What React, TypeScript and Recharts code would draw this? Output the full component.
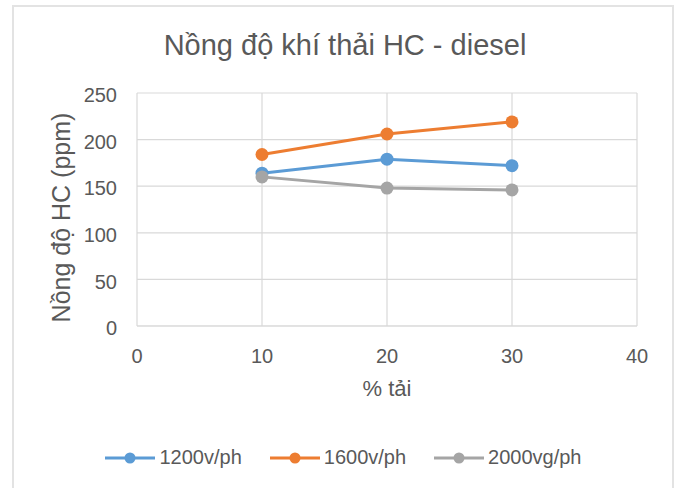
import React from "react";
import {
  LineChart,
  Line,
  XAxis,
  YAxis,
  CartesianGrid,
  Label,
} from "recharts";

// % load values (x) and HC concentration readings in ppm for each engine speed
const loads = [10, 20, 30];
const hc1200 = [164, 179, 172];
const hc1600 = [184, 206, 219];
const hc2000 = [160, 148, 146];

const xTicks = [0, 10, 20, 30, 40];
const yTicks = [0, 50, 100, 150, 200, 250];

const seriesNames = ["1200v/ph", "1600v/ph", "2000vg/ph"];
const seriesColors = ["#5B9BD5", "#ED7D31", "#A5A5A5"];
const seriesValues = [hc1200, hc1600, hc2000];

const series = seriesNames.map((name, i) => ({
  name,
  color: seriesColors[i],
  data: loads.map((x, j) => ({ x, y: seriesValues[i][j] })),
}));

const FONT = "'Liberation Sans', Arial, sans-serif";
const TEXT = "#595959";
const GRID = "#D9D9D9";

const LegendRow = () => (
  <div
    style={{
      position: "absolute",
      left: 0,
      top: 446,
      width: 681,
      display: "flex",
      justifyContent: "center",
      alignItems: "center",
      gap: 28,
      fontFamily: FONT,
      fontSize: 20,
      color: TEXT,
      paddingLeft: 6,
      boxSizing: "border-box",
    }}
  >
    {series.map((s) => (
      <div key={s.name} style={{ display: "flex", alignItems: "center" }}>
        <svg width={50} height={14} style={{ marginRight: 4 }}>
          <line x1={0} y1={7} x2={50} y2={7} stroke={s.color} strokeWidth={3} />
          <circle cx={25} cy={7} r={5.5} fill={s.color} />
        </svg>
        <span>{s.name}</span>
      </div>
    ))}
  </div>
);

export default function App() {
  return (
    <div style={{ position: "absolute", left: 0, top: 0, width: 681, height: 488, background: "#fff" }}>
      <div
        style={{
          position: "absolute",
          left: 12,
          top: 5,
          width: 662,
          height: 483,
          border: "2px solid #E3E3E3",
          borderBottom: "none",
          boxSizing: "border-box",
        }}
      />
      <div
        style={{
          position: "absolute",
          left: 0,
          top: 28,
          width: 690,
          textAlign: "center",
          fontFamily: FONT,
          fontSize: 29,
          color: TEXT,
          lineHeight: "34px",
        }}
      >
        Nồng độ khí thải HC - diesel
      </div>
      <div style={{ position: "absolute", left: 0, top: 0 }}>
        <LineChart
          width={681}
          height={488}
          margin={{ top: 93, right: 44, bottom: 0, left: 0 }}
        >
          <CartesianGrid stroke={GRID} strokeWidth={1.2} />
          <XAxis
            type="number"
            dataKey="x"
            domain={[0, 40]}
            ticks={xTicks}
            height={162}
            axisLine={{ stroke: GRID }}
            tickLine={false}
            tickMargin={17}
            tick={{ fill: TEXT, fontSize: 20, fontFamily: FONT }}
            allowDuplicatedCategory={false}
          >
            <Label
              content={({ viewBox }: any) => (
                <text
                  x={viewBox.x + viewBox.width / 2}
                  y={viewBox.y + 70}
                  textAnchor="middle"
                  fill={TEXT}
                  fontSize={22}
                  fontFamily={FONT}
                >
                  % tải
                </text>
              )}
            />
          </XAxis>
          <YAxis
            type="number"
            domain={[0, 250]}
            ticks={yTicks}
            width={137}
            axisLine={false}
            tickLine={false}
            tickMargin={14}
            tick={{ fill: TEXT, fontSize: 20, fontFamily: FONT, dy: 2 }}
          >
            <Label
              content={({ viewBox }: any) => {
                const cx = 61;
                const cy = viewBox.y + viewBox.height / 2 + 8;
                return (
                  <text
                    x={cx}
                    y={cy}
                    transform={`rotate(-90 ${cx} ${cy})`}
                    textAnchor="middle"
                    dominantBaseline="central"
                    fill={TEXT}
                    fontSize={25}
                    fontFamily={FONT}
                  >
                    Nồng độ HC (ppm)
                  </text>
                );
              }}
            />
          </YAxis>
          {series.map((s) => (
            <Line
              key={s.name}
              data={s.data}
              dataKey="y"
              name={s.name}
              stroke={s.color}
              strokeWidth={3}
              dot={{ r: 6.5, fill: s.color, stroke: s.color, strokeWidth: 0 }}
              activeDot={false}
              isAnimationActive={false}
            />
          ))}
        </LineChart>
      </div>
      <LegendRow />
    </div>
  );
}
